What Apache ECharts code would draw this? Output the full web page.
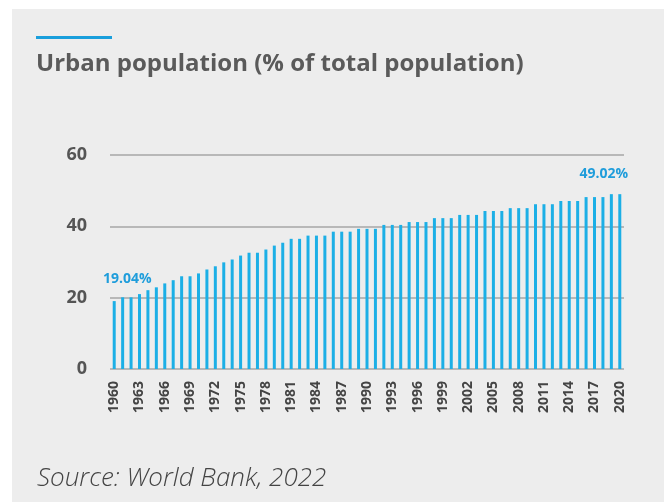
<!DOCTYPE html>
<html>
<head>
  <meta charset="UTF-8">
  <title>Urban population (% of total population)</title>
  <script src="https://cdn.jsdelivr.net/npm/echarts@6.0.0/dist/echarts.min.js"></script>
  <style>
    html, body {
      margin: 0;
      padding: 0;
      background: #ffffff;
    }
    #main {
      width: 664px;
      height: 502px;
    }
  </style>
</head>
<body>
  <div id="main"></div>
  <script>
    const years = [];
    for (let y = 1960; y <= 2020; y++) years.push(String(y));

    const urbanShare = [
      19.04, 20.1, 20.1, 21.0, 22.1, 22.9, 24.0, 24.9, 26.0, 26.0,
      26.8, 27.9, 28.8, 29.9, 30.7, 31.8, 32.6, 32.6, 33.5, 34.6,
      35.4, 36.5, 36.5, 37.4, 37.4, 37.4, 38.5, 38.5, 38.5, 39.3,
      39.3, 39.3, 40.4, 40.4, 40.4, 41.2, 41.2, 41.2, 42.3, 42.3,
      42.3, 43.2, 43.2, 43.2, 44.3, 44.3, 44.3, 45.1, 45.1, 45.1,
      46.2, 46.2, 46.2, 47.1, 47.1, 47.1, 48.2, 48.2, 48.2, 49.02,
      49.02
    ];

    const yTicks = [0, 20, 40, 60];

    const chart = echarts.init(document.getElementById('main'));

    const last = urbanShare.length - 1;
    const barData = urbanShare.map((v, i) => {
      if (i === 0) {
        return { value: v, label: { show: true, offset: [13, -10] } };
      }
      if (i === last) {
        return { value: v, label: { show: true, offset: [-16, -8] } };
      }
      return v;
    });

    const option = {
      backgroundColor: '#ffffff',
      animation: false,
      graphic: [
        { type: 'rect', left: 12, top: 9, shape: { width: 652, height: 493 }, style: { fill: '#ededed' }, z: -10 },
        { type: 'rect', left: 36, top: 36, shape: { width: 76, height: 3 }, style: { fill: '#1a9fdc' } },
        {
          type: 'text', left: 36, top: 52,
          style: {
            text: 'Urban population (% of total population)',
            font: 'bold 24px "Open Sans"',
            fill: '#5a5a5a'
          }
        },
        {
          type: 'text', left: 37, top: 466,
          style: {
            text: 'Source: World Bank, 2022',
            font: 'italic 300 26px "Open Sans"',
            fill: '#444444'
          }
        }
      ],
      grid: {
        left: 110,
        right: 40,
        top: 155,
        bottom: 133
      },
      xAxis: {
        type: 'category',
        data: years,
        axisLine: { show: false },
        axisTick: { show: false },
        axisLabel: {
          rotate: 90,
          interval: 2,
          margin: 12,
          fontFamily: 'Open Sans',
          fontWeight: 'bold',
          fontSize: 14,
          color: '#444444'
        }
      },
      yAxis: {
        type: 'value',
        min: yTicks[0],
        max: yTicks[yTicks.length - 1],
        interval: 20,
        axisLine: { show: false },
        axisTick: { show: false },
        splitLine: { lineStyle: { color: '#b8b8b8', width: 2 } },
        axisLabel: {
          margin: 23,
          fontFamily: 'Open Sans',
          fontWeight: 'bold',
          fontSize: 18,
          color: '#555555'
        }
      },
      series: [
        {
          type: 'bar',
          data: barData,
          barWidth: 3,
          itemStyle: { color: '#1cafe6' },
          label: {
            show: false,
            position: 'top',
            formatter: p => p.value.toFixed(2) + '%',
            fontFamily: 'Open Sans',
            fontWeight: 'bold',
            fontSize: 14,
            color: '#1f9ddb'
          }
        }
      ]
    };

    chart.setOption(option);
  </script>
</body>
</html>
